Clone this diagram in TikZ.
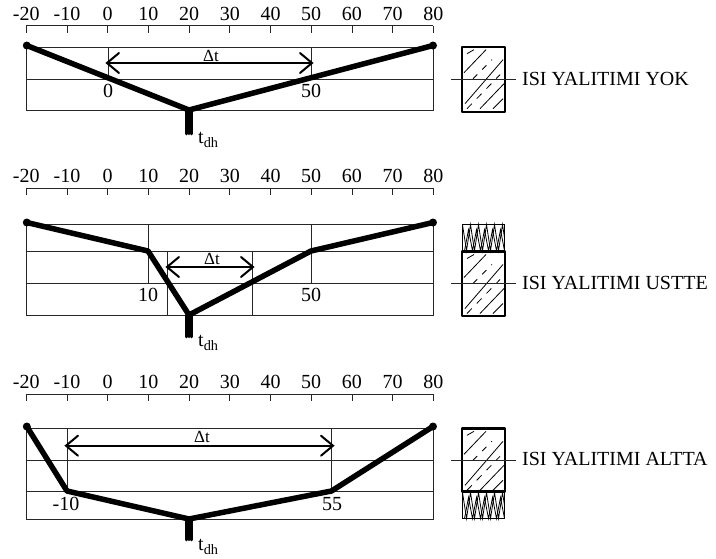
\documentclass[tikz,border=0pt]{standalone}
\usepackage{fontspec}
\setmainfont{Liberation Serif}
\tikzset{x=1pt,y=-1pt,
  gridline/.style={line width=0.8pt,draw=black!85},
  thick line/.style={line width=5.5pt,line join=round},
  enddot/.style={circle,fill=black,inner sep=0pt,minimum size=8pt},
  lab/.style={font=\fontsize{20}{21}\selectfont,inner sep=0pt},
  small/.style={font=\fontsize{17}{18}\selectfont,inner sep=0pt},
  dim/.style={line width=2pt},
  barb/.style={line width=2pt,line cap=round,line join=miter},
  wallbox/.style={line width=2.4pt,line join=round},
  thin/.style={line width=0.8pt},
}
\newcommand{\tdh}{t\raisebox{-4pt}{\fontsize{14.3}{15}\selectfont dh}}
\newcommand{\barbs}[2]{%
  \draw[dim] (#1) -- (#2);
  \draw[barb] ([shift={(12,-10)}]#1) -- (#1) -- ([shift={(12,10)}]#1);
  \draw[barb] ([shift={(-12,-10)}]#2) -- (#2) -- ([shift={(-12,10)}]#2);
}
\newcommand{\axisrow}[2]{% line y, label y
  \draw[gridline] (26.3,#1) -- (433.3,#1);
  \foreach \v [count=\i from 0] in {-20,-10,0,10,20,30,40,50,60,70,80}{
    \draw[gridline] ({26.3+40.7*\i},#1) -- ({26.3+40.7*\i},#1+7);
    \node[lab] at ({26.3+40.7*\i},#2) {\v};
  }
}
\newcommand{\hatching}[2]{% left x, top y
  \begin{scope}[shift={(#1,#2)}]
    \draw[thin] (2,26) -- (24,3);
    \draw[thin] (3,57) -- (41,13);
    \draw[thin] (18,62) -- (42,37);
    \draw[thin] (5,7) -- (12,3);
    \draw[thin,dash pattern=on 6pt off 7pt] (11,32) -- (30,13);
    \draw[thin,dash pattern=on 7pt off 7pt] (5,62) -- (38,28);
    \draw[thin] (31,62) -- (41,52);
  \end{scope}
}
\newcommand{\insul}[2]{% left x, top y
  \begin{scope}[shift={(#1,#2)}]
    \draw[thin] (0,0) rectangle (42,26);
    \draw[thin] (0,0) -- (4,26) -- (8,0) -- (12,26) -- (16,0) -- (20,26) -- (24,0) -- (28,26) -- (32,0) -- (36,26) -- (40,0) -- (42,13);
    \draw[thin] (2,26) -- (6,5) -- (10,26) -- (14,5) -- (18,26) -- (22,5) -- (26,26) -- (30,5) -- (34,26) -- (38,5) -- (42,26);
  \end{scope}
}
\newcommand{\stem}[2]{%
  \draw[line width=2.6pt,line cap=round] (186.7,#1) -- (186.7,#2);
  \draw[line width=2.6pt,line cap=round] (189,#1) -- (189,#2);
  \draw[line width=2.6pt,line cap=round] (191.3,#1) -- (191.3,#2);
}
\begin{document}
\begin{tikzpicture}
\useasboundingbox (0,0) rectangle (716,558);
% ---------- panel 1
\axisrow{25.5}{13.5}
\draw[gridline] (26.3,47.3) rectangle (433.3,110.7);
\draw[gridline] (26.3,79) -- (433.3,79);
\draw[gridline] (108,47.3) -- (108,79);
\draw[gridline] (311,47.3) -- (311,79);
\node[enddot] (a1) at (26.8,45.5) {};
\node[enddot] (b1) at (433,45.5) {};
\coordinate (v1) at (189,110);
\draw[thick line] (a1.center) -- (v1) -- (b1.center);
\stem{110}{134}
\coordinate (da1) at (107,63);
\coordinate (db1) at (312,63);
\barbs{da1}{db1}
\node[small] at (211,55.5) {Δt};
\node[lab] at (108,91) {0};
\node[lab] at (311,91) {50};
\node[lab,anchor=west] at (198,140) {\tdh};
\draw[wallbox] (462,46.7) rectangle (505,111.7);
\hatching{462}{46.7}
\draw[gridline] (451,79) -- (516,79);
\node[lab,anchor=west] at (522,78.5) {ISI YALITIMI YOK};
% ---------- panel 2
\axisrow{188}{176}
\draw[gridline] (26.3,224.3) rectangle (433.3,315);
\draw[gridline] (26.3,251.7) -- (433.3,251.7);
\draw[gridline] (26.3,283.3) -- (433.3,283.3);
\draw[gridline] (148,224.3) -- (148,283.3);
\draw[gridline] (311,224.3) -- (311,283.3);
\draw[gridline] (167.5,251.7) -- (167.5,315);
\draw[gridline] (252,251.7) -- (252,315);
\node[enddot] (a2) at (26.8,222.5) {};
\node[enddot] (b2) at (433,222.5) {};
\coordinate (c2) at (148,251);
\coordinate (d2) at (311,251);
\coordinate (v2) at (189,315);
\draw[thick line] (a2.center) -- (c2) -- (v2) -- (d2) -- (b2.center);
\stem{315}{337}
\coordinate (da2) at (167,267);
\coordinate (db2) at (253,267);
\barbs{da2}{db2}
\node[small] at (212,259) {Δt};
\node[lab] at (148,295) {10};
\node[lab] at (311,295) {50};
\node[lab,anchor=west] at (198,343) {\tdh};
\insul{462.5}{224.7}
\draw[wallbox] (462,251.5) rectangle (505,316);
\hatching{462}{251.5}
\draw[gridline] (451,283.3) -- (516,283.3);
\node[lab,anchor=west] at (522,283) {ISI YALITIMI USTTE};
% ---------- panel 3
\axisrow{394.3}{382}
\draw[gridline] (26.3,428.3) rectangle (433.3,519.3);
\draw[gridline] (26.3,460.3) -- (433.3,460.3);
\draw[gridline] (26.3,491.7) -- (433.3,491.7);
\draw[gridline] (67,428.3) -- (67,491.7);
\draw[gridline] (331.5,428.3) -- (331.5,491.7);
\node[enddot] (a3) at (26.8,426.5) {};
\node[enddot] (b3) at (433,426.5) {};
\coordinate (c3) at (67,491);
\coordinate (d3) at (331.5,491);
\coordinate (v3) at (189,519);
\draw[thick line] (a3.center) -- (c3) -- (v3) -- (d3) -- (b3.center);
\stem{519}{540}
\coordinate (da3) at (66,445.7);
\coordinate (db3) at (333,445.7);
\barbs{da3}{db3}
\node[small] at (202,437) {Δt};
\node[lab] at (66,504) {-10};
\node[lab] at (332,504) {55};
\node[lab,anchor=west] at (198,547) {\tdh};
\insul{462.5}{492.5}
\draw[wallbox] (462,428.3) rectangle (505,491.5);
\hatching{462}{428.3}
\draw[gridline] (451,460.3) -- (516,460.3);
\node[lab,anchor=west] at (522,459) {ISI YALITIMI ALTTA};
\end{tikzpicture}
\end{document}
